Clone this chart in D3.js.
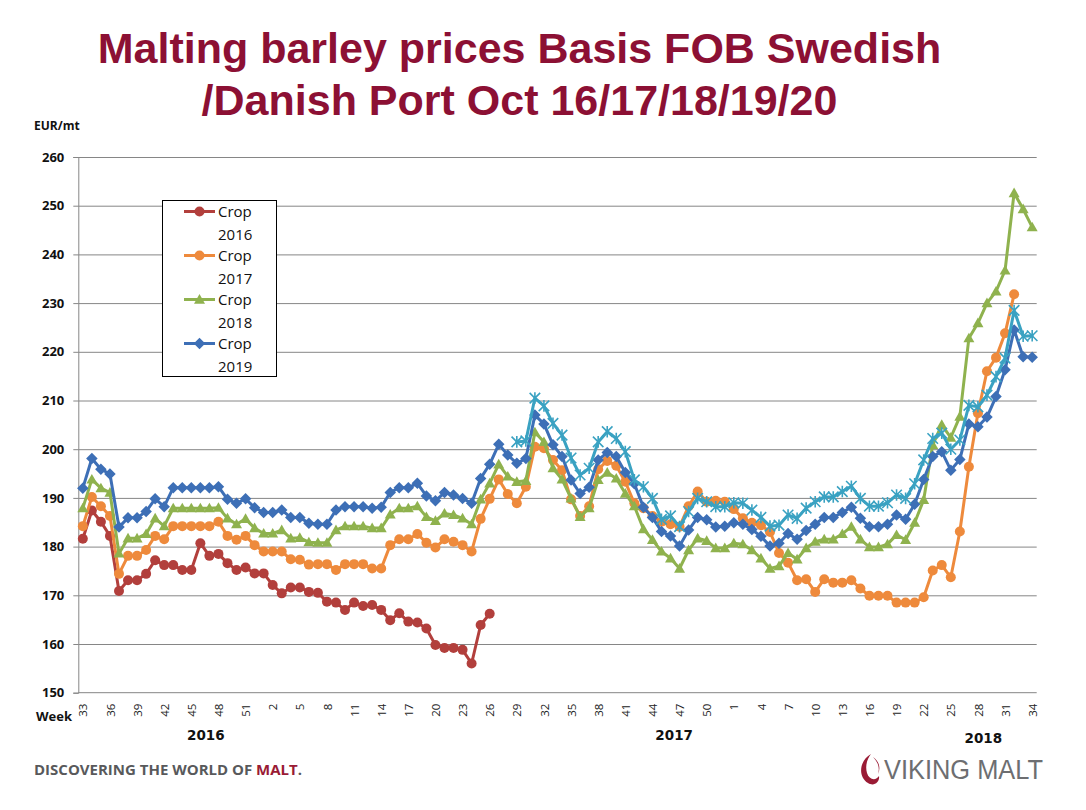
<!DOCTYPE html>
<html><head><meta charset="utf-8">
<script src="https://cdn.jsdelivr.net/npm/d3@7"></script>
<style>body{margin:0;background:#fff;} svg{display:block;}</style>
</head><body><svg id="c" width="1086" height="810"></svg>
<script>
// ---------- DATA ----------
const weeks = [33,34,35,36,37,38,39,40,41,42,43,44,45,46,47,48,49,50,51,52,
  1,2,3,4,5,6,7,8,9,10,11,12,13,14,15,16,17,18,19,20,21,22,23,24,25,26,27,28,29,30,31,32,33,34,35,36,37,38,39,40,41,42,43,44,45,46,47,48,49,50,51,52,
  1,2,3,4,5,6,7,8,9,10,11,12,13,14,15,16,17,18,19,20,21,22,23,24,25,26,27,28,29,30,31,32,33,34];
const yearLabels = ["2016","2017","2018"];
const yTicks = [150,160,170,180,190,200,210,220,230,240,250,260];
const seriesNames = ["Crop 2016","Crop 2017","Crop 2018","Crop 2019","Crop 2020"];

const crop2016Start = 0;
const crop2016 = [181.6,187.4,185.1,182.2,170.9,173.1,173.1,174.4,177.2,176.2,176.2,175.2,175.2,180.7,178.1,178.5,176.6,175.2,175.7,174.5,
  174.5,172.1,170.4,171.6,171.6,170.7,170.5,168.7,168.5,167.0,168.5,167.8,168.0,167.0,164.9,166.3,164.6,164.4,163.2,159.8,
  159.2,159.2,158.8,156.0,163.9,166.2];

const crop2017Start = 0;
const crop2017 = [184.2,190.2,188.3,186.3,174.4,178.1,178.1,179.3,182.2,181.5,184.2,184.2,184.2,184.2,184.2,185.1,182.2,181.4,182.2,180.3,
  179.0,179.0,179.0,177.4,177.3,176.3,176.4,176.4,175.2,176.4,176.4,176.4,175.5,175.5,180.3,181.5,181.5,182.6,180.8,179.8,
  181.5,181.0,180.3,179.0,185.7,189.8,193.8,190.8,188.9,192.3,200.5,200.2,197.8,195.7,189.7,186.3,188.3,195.9,197.6,196.6,
  193.3,188.9,187.9,186.3,185.1,184.6,184.1,188.3,191.3,189.2,189.4,189.2,187.7,185.8,184.9,184.4,183.0,178.7,176.7,173.1,
  173.3,170.7,173.3,172.6,172.6,173.1,171.4,169.9,169.9,169.9,168.5,168.5,168.5,169.6,175.1,176.2,173.7,183.1,196.4,207.4,
  216.0,218.8,223.8,231.8];

const crop2018Start = 0;
const crop2018 = [187.9,193.8,192.0,191.1,178.6,181.7,181.7,182.6,185.8,184.2,187.9,187.9,187.9,187.9,187.9,188.0,185.8,184.6,185.7,183.8,
  182.7,182.7,183.4,181.7,181.8,180.9,180.8,180.8,183.4,184.2,184.2,184.2,183.8,183.8,186.6,187.9,187.9,188.3,186.1,185.3,
  186.8,186.5,185.8,184.6,189.7,193.0,196.9,194.4,193.3,193.5,203.5,201.5,196.1,193.8,189.9,186.1,187.9,193.7,195.2,194.0,
  190.9,188.3,183.6,181.4,179.0,177.6,175.5,179.3,181.7,181.2,179.7,179.7,180.7,180.5,179.3,177.6,175.5,176.0,178.7,177.4,
  179.7,181.0,181.5,181.5,182.6,184.1,181.5,179.9,179.9,180.5,182.4,181.4,184.9,189.6,200.9,205.0,202.4,206.7,222.8,225.9,
  230.0,232.4,236.7,252.6,249.3,245.6];

const crop2019Start = 0;
const crop2019 = [192.0,198.1,195.9,194.9,184.0,185.9,185.9,187.2,189.8,188.2,192.1,192.1,192.1,192.1,192.1,192.3,189.7,188.9,189.8,188.0,
  187.0,187.0,187.5,186.0,186.0,184.8,184.6,184.6,187.5,188.2,188.2,188.2,187.9,188.1,191.1,192.1,192.1,193.0,190.4,189.4,
  191.1,190.6,189.9,188.9,194.0,196.9,201.0,198.8,197.1,198.1,207.0,205.2,200.9,198.5,193.7,190.9,192.2,197.8,199.3,198.5,
  195.2,192.9,188.1,186.0,183.1,182.2,180.1,183.4,186.0,185.5,184.0,184.2,184.9,184.6,183.5,182.1,180.1,180.7,182.7,181.5,
  183.3,184.6,186.0,186.0,187.0,188.1,185.8,184.1,184.1,184.6,186.5,185.6,188.7,193.8,198.5,199.5,195.7,197.9,205.2,204.6,
  206.6,210.8,216.3,224.5,219.0,218.9];

const crop2020Start = 48;
const crop2020 = [201.5,201.7,210.5,208.9,205.3,202.9,198.2,194.7,196.1,201.5,203.6,202.2,199.5,193.7,192.3,189.9,185.6,186.3,184.1,187.2,
  189.9,189.2,188.2,188.2,189.0,188.9,187.5,186.0,184.2,184.4,186.5,185.8,187.9,189.2,190.2,190.2,191.3,192.4,189.9,188.3,
  188.3,189.0,190.6,189.9,192.9,197.8,202.2,203.3,200.0,201.9,209.0,208.7,211.1,214.9,218.7,228.5,223.2,223.3];

// ---------- LAYOUT ----------
const svg = d3.select("#c");
const plotL = 78.3, plotR = 1036.7, plotT = 157, plotB = 692.7;
const x = d3.scalePoint().domain(d3.range(weeks.length)).range([plotL, plotR]).padding(0.5);
const y = d3.scaleLinear().domain([150, 260]).range([plotB, plotT]);

const colors = ["#B23F3C", "#EE8A3C", "#8FB24E", "#3D6FB6", "#3AA2C2"];
const markers = ["circle", "circle", "triangle", "diamond", "asterisk"];

svg.append("rect").attr("width", 1086).attr("height", 810).attr("fill", "#fff");

// Title
const title = svg.append("text").attr("text-anchor", "middle")
  .attr("font-family", "'Liberation Sans', Arial, sans-serif").attr("font-weight", "bold")
  .attr("font-size", 43).attr("fill", "#8C1034");
title.append("tspan").attr("x", 519.5).attr("y", 63).text("Malting barley prices Basis FOB Swedish");
title.append("tspan").attr("x", 519.5).attr("y", 115).text("/Danish Port Oct 16/17/18/19/20");

// EUR/mt
svg.append("text").attr("x", 34).attr("y", 130).attr("font-family", "'Open Sans', sans-serif")
  .attr("font-weight", "bold").attr("font-size", 12).attr("fill", "#111").text("EUR/mt");

// Gridlines
const grid = svg.append("g").attr("transform", `translate(${plotL},0)`)
  .call(d3.axisLeft(y).tickValues(yTicks.filter(v => v > 150)).tickSize(-(plotR - plotL)).tickFormat(""));
grid.select(".domain").remove();
grid.selectAll("line").attr("stroke", "#868686").attr("stroke-width", 1);

// Y axis
const yAxis = svg.append("g").attr("transform", `translate(${plotL},0)`)
  .call(d3.axisLeft(y).tickValues(yTicks).tickSize(5).tickPadding(9));
yAxis.select(".domain").attr("stroke", "#868686");
yAxis.selectAll("line").attr("stroke", "#868686");
yAxis.selectAll("text").attr("font-family", "'Open Sans', sans-serif").attr("font-weight", "bold")
  .attr("font-size", 13).attr("fill", "#111");

// X axis
const xAxis = svg.append("g").attr("transform", `translate(0,${plotB})`)
  .call(d3.axisBottom(x).tickValues(d3.range(0, weeks.length, 3)).tickSize(0).tickFormat(i => weeks[i]));
xAxis.select(".domain").attr("stroke", "#868686").attr("d", `M${plotL},0H${plotR}`);
xAxis.selectAll("text").attr("font-family", "'Open Sans', sans-serif").attr("font-size", 11.5)
  .attr("fill", "#222").attr("text-anchor", "end").attr("transform", "rotate(-90)")
  .attr("x", -11).attr("y", 0).attr("dy", "0.36em");

svg.append("text").attr("x", 36).attr("y", 721).attr("font-family", "'Open Sans', sans-serif")
  .attr("font-weight", "bold").attr("font-size", 13).attr("fill", "#111").text("Week");

// Year labels
const yearAt = [13.6, 65.4, 99.6];
const yearY = [740, 740, 743];
yearLabels.forEach((t, k) => {
  const xi = x(Math.floor(yearAt[k])) + (yearAt[k] % 1) * x.step();
  svg.append("text").attr("x", xi).attr("y", yearY[k]).attr("text-anchor", "middle")
    .attr("font-family", "'DejaVu Sans', Verdana, sans-serif").attr("font-weight", "bold")
    .attr("font-size", 13.5).attr("fill", "#111").text(t);
});

// Marker drawing
function drawMarker(g, type, cx, cy, color, s) {
  if (type === "circle") {
    g.append("circle").attr("cx", cx).attr("cy", cy).attr("r", s).attr("fill", color);
  } else if (type === "triangle") {
    const h = s * 1.1;
    g.append("path").attr("d", `M${cx},${cy - h}L${cx + h},${cy + h * 0.75}L${cx - h},${cy + h * 0.75}Z`).attr("fill", color);
  } else if (type === "diamond") {
    const h = s * 1.15;
    g.append("path").attr("d", `M${cx},${cy - h}L${cx + h},${cy}L${cx},${cy + h}L${cx - h},${cy}Z`).attr("fill", color);
  } else if (type === "asterisk") {
    const h = s * 1.05;
    g.append("path").attr("d",
      `M${cx - h},${cy - h}L${cx + h},${cy + h}M${cx - h},${cy + h}L${cx + h},${cy - h}M${cx},${cy - h * 1.1}L${cx},${cy + h * 1.1}`)
      .attr("stroke", color).attr("stroke-width", 1.6).attr("fill", "none");
  }
}

const seriesData = [
  [crop2016, crop2016Start], [crop2017, crop2017Start], [crop2018, crop2018Start],
  [crop2019, crop2019Start], [crop2020, crop2020Start]
];
const line = d3.line().x(d => x(d.i)).y(d => y(d.v));
seriesData.forEach(([vals, start], k) => {
  const pts = vals.map((v, j) => ({ i: start + j, v }));
  const g = svg.append("g");
  g.append("path").datum(pts).attr("d", line).attr("fill", "none").attr("stroke", colors[k])
    .attr("stroke-width", 3).attr("stroke-linejoin", "round").attr("stroke-linecap", "round");
  pts.forEach(p => drawMarker(g, markers[k], x(p.i), y(p.v), colors[k], 5));
});

// Legend
const lg = svg.append("g");
lg.append("rect").attr("x", 162.5).attr("y", 200.5).attr("width", 114).attr("height", 176)
  .attr("fill", "#fff").attr("stroke", "#000").attr("stroke-width", 1);
for (let k = 0; k < 4; k++) {
  const cy = 211.5 + k * 44;
  lg.append("line").attr("x1", 184).attr("x2", 215).attr("y1", cy).attr("y2", cy)
    .attr("stroke", colors[k]).attr("stroke-width", 3);
  drawMarker(lg, markers[k], 199.5, cy, colors[k], 5);
  const parts = seriesNames[k].split(" ");
  lg.append("text").attr("x", 218).attr("y", cy).attr("dy", "0.35em")
    .attr("font-family", "'Open Sans', sans-serif").attr("font-size", 15).attr("fill", "#111").text(parts[0]);
  lg.append("text").attr("x", 218).attr("y", cy + 23).attr("dy", "0.35em")
    .attr("font-family", "'Open Sans', sans-serif").attr("font-size", 15).attr("fill", "#111").text(parts[1]);
}

// Footer
const foot = svg.append("text").attr("x", 34).attr("y", 775)
  .attr("font-family", "'Open Sans', sans-serif").attr("font-weight", "bold").attr("font-size", 14)
  .attr("textLength", 268).attr("lengthAdjust", "spacingAndGlyphs").attr("fill", "#58595B");
foot.append("tspan").text("DISCOVERING THE WORLD OF ");
foot.append("tspan").attr("fill", "#9A1B35").text("MALT");
foot.append("tspan").text(".");

// Viking Malt logo
svg.append("path")
  .attr("d", "M871,754 C860,760 857,776 868,783 C874,787 880,782 879,776 C876,781 869,780 867,773 C865,766 867,759 871,754 Z")
  .attr("fill", "#9A1B35");
svg.append("path")
  .attr("d", "M873,757 C879,761 881,768 878,774 C880,768 878,762 873,757 Z")
  .attr("fill", "#9A1B35");
svg.append("text").attr("x", 884).attr("y", 779)
  .attr("font-family", "'Liberation Sans', Arial, sans-serif").attr("font-size", 27)
  .attr("textLength", 159).attr("lengthAdjust", "spacingAndGlyphs").attr("fill", "#6D6E71").text("VIKING MALT");
</script></body></html>
